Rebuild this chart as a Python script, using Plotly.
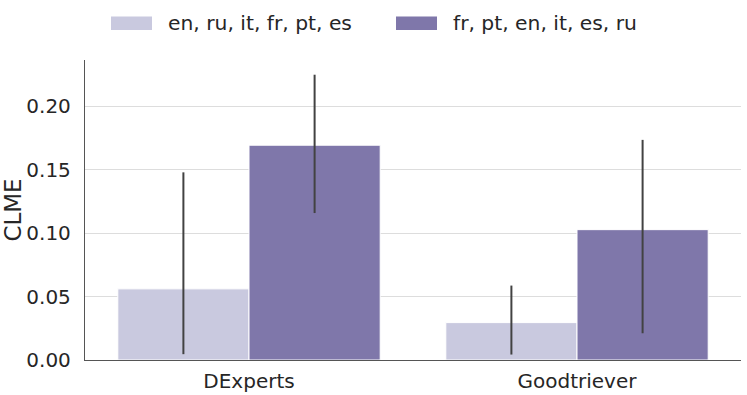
import plotly.graph_objects as go

# data
methods = ["DExperts", "Goodtriever"]
series_names = ["en, ru, it, fr, pt, es", "fr, pt, en, it, es, ru"]
clme_a = [0.0561, 0.0295]
clme_a_lo = [0.0046, 0.0043]
clme_a_hi = [0.148, 0.0587]
clme_b = [0.1694, 0.1028]
clme_b_lo = [0.1159, 0.0211]
clme_b_hi = [0.225, 0.1736]
y_ticks = [0.0, 0.05, 0.10, 0.15, 0.20]

colors = ["#c9c9df", "#7f77aa"]
font = "DejaVu Sans"
txt = "#262626"

fig = go.Figure()
for name, vals, lo, hi, col in [
    (series_names[0], clme_a, clme_a_lo, clme_a_hi, colors[0]),
    (series_names[1], clme_b, clme_b_lo, clme_b_hi, colors[1]),
]:
    fig.add_trace(go.Bar(
        x=methods, y=vals, name=name,
        marker=dict(color=col, line=dict(color="white", width=1)),
        error_y=dict(type="data", symmetric=False,
                     array=[h - v for h, v in zip(hi, vals)],
                     arrayminus=[v - l for v, l in zip(vals, lo)],
                     color="#424242", thickness=2, width=0),
        showlegend=False,
    ))

# legend drawn by hand to get the wide seaborn-style swatches
leg_x = [111, 396]
for i, (name, col) in enumerate(zip(series_names, colors)):
    x0 = leg_x[i]
    fig.add_shape(type="rect", xref="paper", yref="paper",
                  x0=(x0 - 85) / 656, x1=(x0 + 41 - 85) / 656,
                  y0=(395 - 34.5 - 30) / 300.5, y1=(395 - 34.5 - 16.5) / 300.5,
                  fillcolor=col, line=dict(color=col, width=0))
    fig.add_annotation(xref="paper", yref="paper", x=(x0 + 55 - 85) / 656,
                       y=(395 - 34.5 - 23) / 300.5, text=name, showarrow=False,
                       xanchor="left", yanchor="middle",
                       font=dict(family=font, size=20.3, color=txt))

fig.update_layout(
    width=747, height=395,
    margin=dict(l=85, r=6, t=60, b=34.5),
    barmode="group", bargap=0.2, bargroupgap=0,
    plot_bgcolor="white", paper_bgcolor="white",
    font=dict(family=font, size=20, color=txt),
    xaxis=dict(range=[-0.5, 1.5], showgrid=False, showline=True,
               linecolor="#555555", linewidth=1.3, ticks="",
               ticklabelstandoff=3, tickfont=dict(size=20),
               automargin=False),
    yaxis=dict(range=[0, 0.2366], tickvals=y_ticks, tickformat=".2f",
               showgrid=True, gridcolor="#dddddd", gridwidth=1,
               showline=True, linecolor="#555555", linewidth=1.3,
               ticks="", ticklabelstandoff=9, zeroline=False,
               title=dict(text="CLME", standoff=5, font=dict(size=23)),
               tickfont=dict(size=20), automargin=False),
)

fig.write_html("out.html", config={"displayModeBar": False},
               post_script="document.body.style.margin='0';"
                           "document.body.style.overflow='hidden';")
